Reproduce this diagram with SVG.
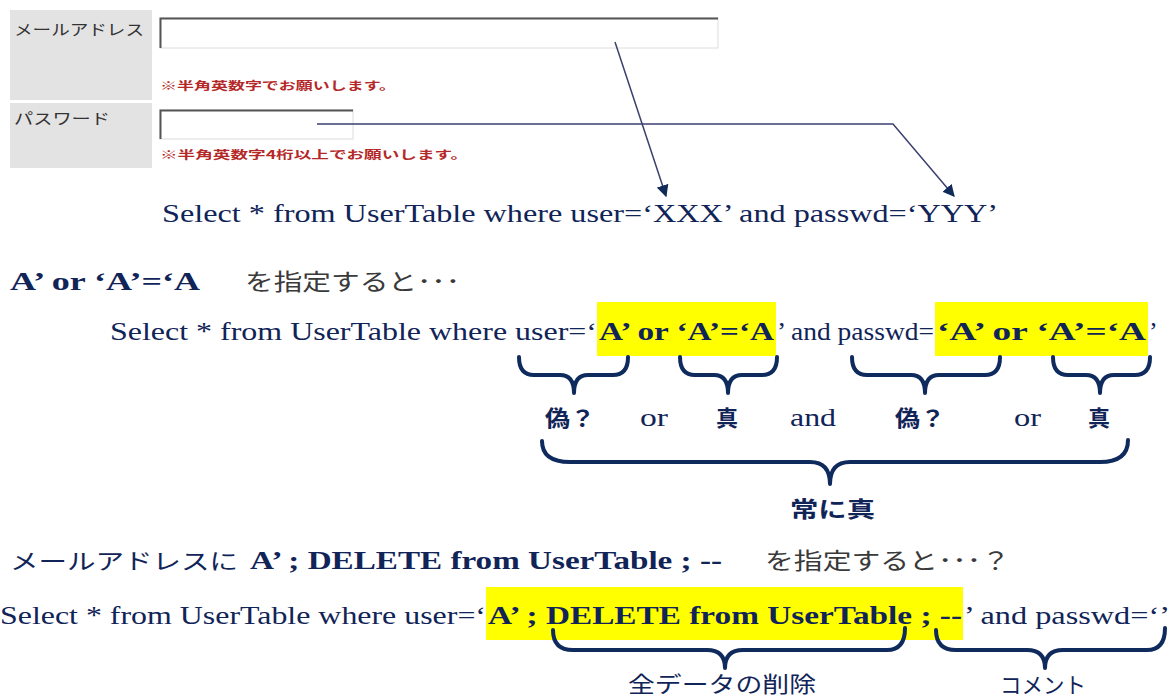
<svg xmlns="http://www.w3.org/2000/svg" width="1173" height="699" viewBox="0 0 1173 699">
<defs>
<marker id="ah" viewBox="0 0 10 10" refX="9" refY="5" markerWidth="12" markerHeight="12" markerUnits="userSpaceOnUse" orient="auto">
<path d="M0,0 L10,5 L0,10 z" fill="#102a5a"/>
</marker>
<style>
.cell{fill:#e3e3e3}
.lbl{font-family:"Noto Sans CJK JP",sans-serif;font-size:15px;fill:#333}
.red{font-family:"Noto Sans CJK JP",sans-serif;font-size:11px;fill:#b42828;font-weight:bold}
.sql{font-family:"Liberation Serif",serif;font-size:26px;fill:#112458}
.b{font-weight:bold}
.jp{font-family:"Noto Sans CJK JP",sans-serif;font-size:23px;fill:#3a3a3a}
.jpn{font-family:"Noto Sans CJK JP",sans-serif;font-size:22px;fill:#112458}
.jb{font-weight:bold}
.hl{fill:#ffff00}
.brace{fill:none;stroke:#0f2a5c;stroke-width:4;stroke-linejoin:round;stroke-linecap:round}
.conn{fill:none;stroke:#3a4070;stroke-width:1.5}
</style>
</defs>
<rect width="1173" height="699" fill="#ffffff"/>

<g id="form">
<rect class="cell" x="10" y="10" width="142" height="90"/>
<rect class="cell" x="10" y="103" width="142" height="65"/>
<text class="lbl" x="14" y="35" textLength="130" lengthAdjust="spacingAndGlyphs">メールアドレス</text>
<text class="lbl" x="14" y="124" textLength="96" lengthAdjust="spacingAndGlyphs">パスワード</text>
<rect x="160" y="18" width="558" height="30" fill="#fff" stroke="#dcdcdc" stroke-width="1"/>
<path d="M160.5,48 V18.5 H718" fill="none" stroke="#555" stroke-width="2"/>
<text class="red" x="160" y="90" textLength="236" lengthAdjust="spacingAndGlyphs">※半角英数字でお願いします。</text>
<rect x="160" y="110" width="193" height="29" fill="#fff" stroke="#dcdcdc" stroke-width="1"/>
<path d="M160.5,139 V110.5 H353" fill="none" stroke="#555" stroke-width="2"/>
<text class="red" x="160" y="159" textLength="308" lengthAdjust="spacingAndGlyphs">※半角英数字4桁以上でお願いします。</text>
</g>

<g id="highlights">
<rect class="hl" x="597" y="302" width="179" height="54"/>
<rect class="hl" x="935" y="302" width="213" height="54"/>
<rect class="hl" x="486" y="587" width="477" height="53"/>
</g>

<g id="line1">
<text class="sql" x="162" y="222" textLength="836" lengthAdjust="spacingAndGlyphs">Select * from UserTable where user=‘XXX’ and passwd=‘YYY’</text>
</g>

<g id="line2">
<text class="sql b" x="10" y="290" textLength="190" lengthAdjust="spacingAndGlyphs">A’ or ‘A’=‘A</text>
<text class="jp" x="245" y="290" textLength="215" lengthAdjust="spacingAndGlyphs">を指定すると･･･</text>
</g>

<g id="line3">
<text class="sql" x="110" y="340" textLength="487" lengthAdjust="spacingAndGlyphs">Select * from UserTable where user=‘</text>
<text class="sql b" x="599" y="340" textLength="175" lengthAdjust="spacingAndGlyphs">A’ or ‘A’=‘A</text>
<text class="sql" x="777" y="340" textLength="157" lengthAdjust="spacingAndGlyphs">’ and passwd=</text>
<text class="sql b" x="937" y="340" textLength="209" lengthAdjust="spacingAndGlyphs">‘A’ or ‘A’=‘A</text>
<text class="sql" x="1149" y="340">’</text>
</g>

<g id="labels">
<text class="jpn jb" x="545" y="426" textLength="50" lengthAdjust="spacingAndGlyphs">偽？</text>
<text class="sql" x="640" y="426" textLength="28" lengthAdjust="spacingAndGlyphs">or</text>
<text class="jpn jb" x="716" y="426">真</text>
<text class="sql" x="790" y="426" textLength="46" lengthAdjust="spacingAndGlyphs">and</text>
<text class="jpn jb" x="895" y="426" textLength="50" lengthAdjust="spacingAndGlyphs">偽？</text>
<text class="sql" x="1014" y="426" textLength="27" lengthAdjust="spacingAndGlyphs">or</text>
<text class="jpn jb" x="1088" y="426">真</text>
<text class="jpn jb" x="790" y="517" textLength="85" lengthAdjust="spacingAndGlyphs">常に真</text>
</g>

<g id="line5">
<text class="jpn" x="10" y="569" textLength="228" lengthAdjust="spacingAndGlyphs">メールアドレスに</text>
<text class="sql b" x="250" y="569" textLength="472" lengthAdjust="spacingAndGlyphs">A’ ; DELETE from UserTable ;  --</text>
<text class="jp" x="765" y="569" textLength="245" lengthAdjust="spacingAndGlyphs">を指定すると･･･？</text>
</g>

<g id="line6">
<text class="sql" x="0" y="624" textLength="486" lengthAdjust="spacingAndGlyphs">Select * from UserTable where user=‘</text>
<text class="sql b" x="488" y="624" textLength="474" lengthAdjust="spacingAndGlyphs">A’ ; DELETE from UserTable ;  --</text>
<text class="sql" x="964" y="624" textLength="206" lengthAdjust="spacingAndGlyphs">’ and passwd=‘’</text>
<text class="jpn" x="628" y="692" textLength="188" lengthAdjust="spacingAndGlyphs">全データの削除</text>
<text class="jpn" x="1000" y="693" textLength="86" lengthAdjust="spacingAndGlyphs">コメント</text>
</g>

<g id="connectors">
<path class="conn" d="M615,42 L666,196" marker-end="url(#ah)"/>
<path class="conn" d="M317,124 H893 L954,196" marker-end="url(#ah)"/>
<path class="brace" d="M519,357 Q519,375 534,375 L560,375 Q574,375 574,393 Q574,375 588,375 L613,375 Q628,375 628,357"/>
<path class="brace" d="M680,357 Q680,375 695,375 L714,375 Q728,375 728,393 Q728,375 742,375 L762,375 Q777,375 777,357"/>
<path class="brace" d="M852,357 Q852,375 867,375 L911,375 Q925,375 925,393 Q925,375 939,375 L985,375 Q1000,375 1000,357"/>
<path class="brace" d="M1053,357 Q1053,375 1068,375 L1086,375 Q1100,375 1100,393 Q1100,375 1114,375 L1135,375 Q1150,375 1150,357"/>
<path class="brace" d="M542,441 Q542,462 570,462 L810,462 Q830,462 830,484 Q830,462 850,462 L1100,462 Q1128,462 1128,440"/>
<path class="brace" d="M553,630 Q553,650 573,650 L707,650 Q725,650 725,668 Q725,650 743,650 L887,650 Q905,650 905,628"/>
<path class="brace" d="M936,630 Q936,650 956,650 L1027,650 Q1045,650 1045,668 Q1045,650 1063,650 L1147,650 Q1165,650 1165,628"/>
</g>
</svg>
